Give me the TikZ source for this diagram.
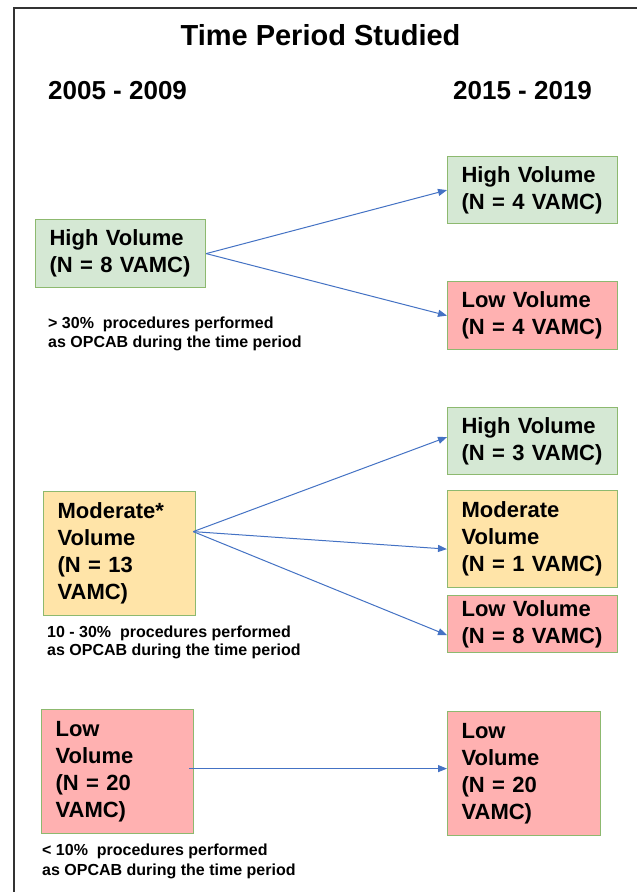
\documentclass[tikz,border=0pt]{standalone}
\usepackage{fontspec}
\setmainfont{Liberation Sans}
\usetikzlibrary{arrows.meta}
\definecolor{gfill}{HTML}{D5E8D4}
\definecolor{gline}{HTML}{8DB96F}
\definecolor{pfill}{HTML}{FFB1B1}
\definecolor{ofill}{HTML}{FFE4A8}
\definecolor{arrowblue}{HTML}{4472C4}
\definecolor{framegray}{HTML}{333333}
\begin{document}
\begin{tikzpicture}[x=1pt,y=-1pt,
  box/.style={draw=gline, line width=1.2pt, anchor=north west, align=left,
    inner xsep=14pt, inner ysep=0pt,
    font=\fontsize{22}{27}\selectfont\bfseries},
  greenbox/.style={box, fill=gfill},
  pinkbox/.style={box, fill=pfill},
  orangebox/.style={box, fill=ofill},
  caption/.style={anchor=base west, inner sep=0pt, font=\fontsize{16}{19}\selectfont\bfseries},
  yearlabel/.style={anchor=base west, inner sep=0pt, font=\fontsize{26}{30}\selectfont\bfseries},
  arr/.style={draw=arrowblue, line width=1pt, -{Triangle[length=9pt,width=7pt]}}]
\useasboundingbox (0,0) rectangle (637,892);
\fill[white] (0,0) rectangle (637,892);
\draw[framegray, line width=2pt] (14,892) -- (14,8) -- (637,8);

\node[anchor=base, inner sep=0pt, font=\fontsize{29}{34}\selectfont\bfseries] (title) at (320.5,45) {Time Period Studied};
\node[yearlabel] (y1) at (48,99) {2005 - 2009};
\node[yearlabel] (y2) at (453,99) {2015 - 2019};

% left column
\node[greenbox, text width=142pt, minimum height=68pt] (L1) at (35,219) {High Volume\\(N = 8 VAMC)};
\node[orangebox, text width=124pt, minimum height=124pt] (L2) at (43,491) {Moderate*\\Volume\\(N = 13\\VAMC)};
\node[pinkbox, text width=124pt, minimum height=124pt] (L3) at (41,709) {Low\\Volume\\(N = 20\\VAMC)};

% right column
\node[greenbox, text width=142pt, minimum height=67pt] (R1) at (447,156) {High Volume\\(N = 4 VAMC)};
\node[pinkbox, text width=142pt, minimum height=68pt] (R2) at (447,281) {Low Volume\\(N = 4 VAMC)};
\node[greenbox, text width=142pt, minimum height=67pt] (R3) at (447,407) {High Volume\\(N = 3 VAMC)};
\node[orangebox, text width=142pt, minimum height=97pt] (R4) at (447,490) {Moderate\\Volume\\(N = 1 VAMC)};
\node[pinkbox, text width=142pt, minimum height=57pt] (R5) at (447,595) {Low Volume\\(N = 8 VAMC)};
\node[pinkbox, text width=125pt, minimum height=124pt] (R6) at (447,711) {Low\\Volume\\(N = 20\\VAMC)};

% captions
\node[caption] (c1a) at (48,328) {> 30\%\ \ procedures performed};
\node[caption] (c1b) at (48,347) {as OPCAB during the time period};
\node[caption] (c2a) at (47,637) {10 - 30\%\ \ procedures performed};
\node[caption] (c2b) at (47,655) {as OPCAB during the time period};
\node[caption] (c3a) at (42,855) {< 10\%\ \ procedures performed};
\node[caption] (c3b) at (42,875) {as OPCAB during the time period};

% connectors
\draw[arr] (L1.east) -- (R1.west);
\draw[arr] (L1.east) -- (R2.west);
\coordinate (m) at ([xshift=-3pt,yshift=22pt]L2.east);
\draw[arr] (m) -- ([yshift=4pt]R3.west);
\draw[arr] (m) -- ([yshift=-10pt]R4.west);
\draw[arr] (m) -- ([yshift=-11pt]R5.west);
\draw[arr] ([xshift=-5pt,yshift=3pt]L3.east) -- ([yshift=5pt]R6.west);
\end{tikzpicture}
\end{document}
